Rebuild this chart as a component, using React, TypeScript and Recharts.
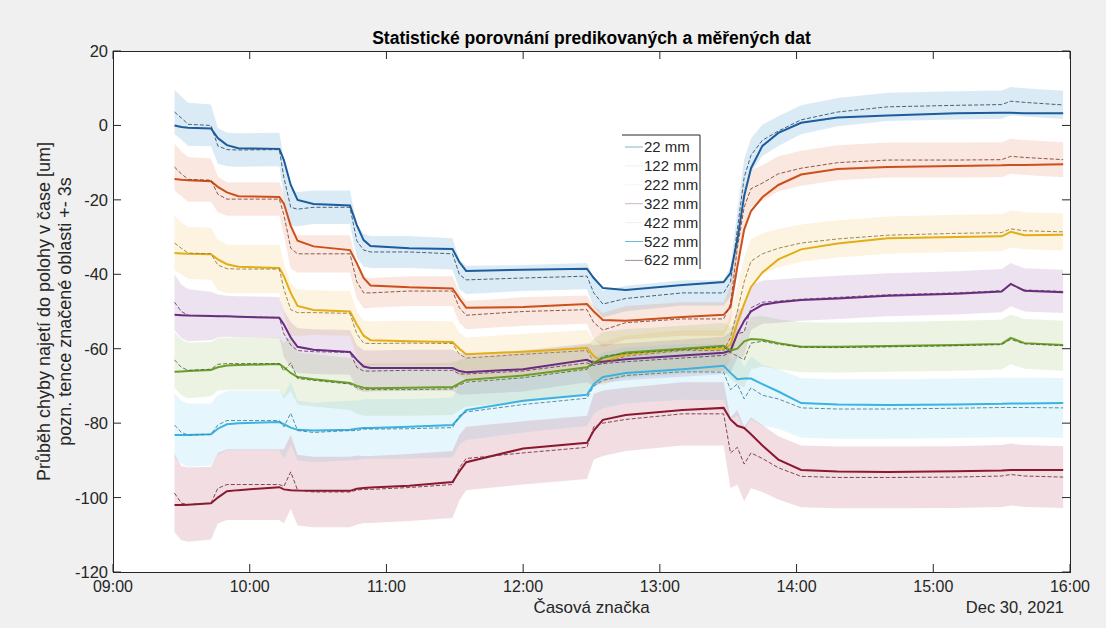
import React from 'react';
import { ComposedChart, Line, Area, XAxis, YAxis } from 'recharts';

// ---------- data ----------
const TIMES = ['09:27','09:30','09:33','09:43','09:46','09:50','09:55','10:13','10:15','10:18','10:21','10:28','10:44','10:47','10:50','10:53','11:10','11:29','11:32','11:35','12:00','12:28','12:31','12:35','12:45','13:10','13:28','13:31','13:34','13:37','13:40','13:45','13:52','14:02','14:18','14:40','15:10','15:30','15:34','15:40','15:57'];
const X_TICKS = ['09:00','10:00','11:00','12:00','13:00','14:00','15:00','16:00'];
const Y_TICKS = [20, 0, -20, -40, -60, -80, -100, -120];
const NAMES = ['22 mm','122 mm','222 mm','322 mm','422 mm','522 mm','622 mm'];

const M22 = [0,-0.4,-0.6,-0.8,-3.4,-5.3,-6.1,-6.3,-9.3,-16,-20,-21.1,-21.5,-26.8,-30.8,-32.4,-33,-33.2,-36.7,-39.1,-38.8,-38.5,-41,-43.7,-44.2,-42.9,-42.1,-39.7,-30.8,-19,-11.5,-5.5,-2,0.7,2.1,2.7,3.3,3.4,3.4,3.3,3.3];
const P22 = [3.6,2,0.3,0,-5.5,-6.5,-6.6,-6.5,-14,-22,-22.5,-22,-22,-31,-33.5,-34,-34,-34.5,-40,-41.5,-41,-40.5,-45,-48,-46.5,-45,-45,-42,-28,-14,-8,-4,-1.5,1.5,3.6,5,5.4,5.6,6.5,6.2,5.5];
const S22 = [6,5.8,5.8,5.6,4.8,4.5,4.5,4.5,5,5,4.6,4.5,4.5,4.6,4.4,4.3,4.3,4.2,4,3.8,3.5,3.5,3.8,3.6,3.4,3.4,3.4,4,5,5,4.5,4.2,4,3.9,3.8,3.8,3.8,3.8,3.8,3.8,3.8];

const M122 = [-14.4,-14.6,-14.7,-15,-16.5,-18,-19,-19.2,-21,-27,-31,-32.5,-33.5,-37,-41,-43,-43.5,-43.8,-46.5,-49,-48.8,-48,-50,-52.3,-52.5,-51.5,-50.9,-48.8,-38,-28,-23,-19.3,-16,-13.2,-11.7,-11.2,-10.9,-10.7,-10.6,-10.6,-10.4];
const P122 = [-11.2,-13,-14.5,-14.7,-18.5,-19.8,-19.8,-19.8,-24,-33,-34.5,-34.5,-34.5,-42,-45,-45,-44.5,-44.5,-49,-51,-50,-49.5,-53,-55,-53,-52,-52,-48,-33,-22,-17,-15.5,-13,-11.5,-10,-9.3,-9.3,-9.2,-8.3,-8.6,-9.2];
const S122 = [6.3,6,6,5.8,4.8,4.5,4.5,4.5,5.5,5.5,5,5,5,4.5,4.2,4,4,4,4,3.8,3.8,3.8,4.5,4.6,4.5,4.5,4.5,5,5.5,5.5,5,4.8,4.7,4.7,4.7,4.7,4.7,4.7,4.7,4.7,4.7];

const M222 = [-34.3,-34.4,-34.5,-34.6,-36,-37.3,-38,-38.3,-40.5,-45,-48.5,-49.6,-50,-53.5,-56.5,-57.7,-58,-58.2,-60,-61.5,-60.8,-59.8,-62,-63.5,-61.5,-60,-60,-59,-53,-48,-43.4,-39.5,-36,-33.3,-31.7,-30.3,-30,-29.8,-28.6,-29.5,-29.4];
const P222 = [-31.6,-33,-34.3,-34.5,-37.5,-38.5,-38.6,-38.6,-44,-49.5,-50.3,-50.3,-50.5,-56,-58.5,-58.6,-58.5,-58.6,-61.5,-62.5,-61.5,-60.5,-63.5,-64,-62,-60.5,-60.5,-57,-50,-42,-36.5,-34.5,-33,-31.6,-30.5,-29.5,-29,-28.8,-27.8,-28.3,-28.6];
const S222 = [7.3,7,7,7,6.8,6.5,6.5,6.5,7,7,6.2,6,6,6.2,6,6,6,6,5.8,5.5,5.5,5.5,5.8,5.8,5.5,5.5,5.5,6,6.5,6.5,6,5.5,5.2,5,5,5,5,5,5,5,5];

const M322 = [-50.9,-51,-51.1,-51.2,-51.3,-51.3,-51.4,-51.7,-53.5,-57,-59.5,-60.3,-60.9,-63,-64.8,-65.2,-65.2,-65.2,-66,-66.3,-65.5,-63,-63.8,-63.5,-62.8,-61.8,-61.1,-60.5,-56,-52.5,-50,-48.2,-47.5,-46.9,-46.5,-45.8,-45.2,-44.6,-42.6,-44.4,-44.8];
const P322 = [-47.5,-50,-51,-51.2,-51.2,-51.3,-51.4,-51.6,-56,-59,-60.5,-60.8,-61,-65,-66,-66,-65.8,-65.8,-66.8,-66.8,-66,-63.8,-64.5,-64,-63.5,-62.5,-61.8,-61,-56,-55.5,-49,-47.5,-47.2,-46.7,-46.2,-45.5,-45,-44.4,-42.8,-44.2,-44.6];
const S322 = [7.5,7.2,7,6.5,5.8,5.5,5.5,5.5,6.2,6.2,6,6,6,6,5.6,5.5,5.5,5.5,5.5,5.5,5.5,5.2,5.5,5.2,5,5,5,5.5,6.5,6.5,6,5.8,5.8,5.8,5.8,5.8,5.8,5.8,5.8,5.8,5.8];

const M422 = [-66.2,-66.1,-66,-65.7,-65,-64.5,-64.4,-64.1,-65,-66.5,-67.6,-68.2,-69.2,-70,-70.5,-70.6,-70.5,-70.3,-69.3,-68.4,-67.2,-65,-63.8,-62.5,-61,-60,-59.2,-60.5,-60,-58,-57.4,-57.6,-58.5,-59.5,-59.5,-59.3,-59,-58.7,-57.1,-58.5,-59];
const P422 = [-63,-65,-65.8,-65.5,-64.2,-64,-64,-64,-66,-63.8,-68,-68.5,-69.5,-70.5,-71,-71,-71,-70.8,-69.8,-69,-67.8,-65.5,-64,-62,-61.3,-60.3,-59.5,-61,-62,-63,-58.5,-58,-58.8,-59.6,-59.7,-59.5,-59.2,-58.9,-57.5,-58.7,-59.2];
const S422 = [7.5,7.5,7.5,7.3,7,7,7,7,7.5,7.5,7,7,7,7,7,7,7,7,6.8,6.5,6.5,6.5,6.5,6.5,6.5,6.5,6.5,7,7.5,7.5,7,6.8,6.7,6.7,6.7,6.7,6.7,6.7,6.7,6.7,6.7];

const M522 = [-83.2,-83.2,-83.2,-83,-81.5,-80.3,-80,-79.7,-80.3,-81.2,-81.8,-82,-81.8,-81.5,-81.3,-81.3,-81,-80.5,-78.5,-76.5,-74,-72.4,-69.5,-67.6,-66.5,-65.5,-64.6,-66.5,-68.2,-68,-68,-69.5,-71.5,-74.6,-75,-75.1,-75,-74.8,-74.7,-74.7,-74.6];
const P522 = [-80.5,-82.5,-83.2,-83,-80.5,-79.3,-79.3,-79.3,-81,-77.3,-82,-82.5,-82,-82,-81.6,-81.6,-81.5,-81.2,-78,-77,-75,-73.3,-70,-68.5,-67.2,-66.2,-66.3,-71,-69.5,-73.5,-70.5,-72.5,-73.5,-75.9,-76.2,-76.2,-76,-75.8,-75.8,-75.8,-75.9];
const S522 = [8.5,8.5,8.5,8.3,8,8,8,8,8.5,8.5,8,8,8,8,8,8,8,8,7.8,7.5,7.5,7.5,7.5,7.5,7.5,7.5,7.5,8,8.5,8.5,8.5,8.2,8,8,8,8,8,8,8,8,8];

const M622 = [-102,-102,-101.9,-101.5,-100,-98.3,-98,-97.2,-97.8,-98,-98.1,-98.2,-98.2,-97.6,-97.4,-97.3,-96.8,-95.8,-93,-90.5,-86.8,-85.3,-82,-79.1,-77.8,-76.5,-75.9,-79,-80.7,-81.3,-83,-86,-89.8,-92.6,-93,-93.1,-92.9,-92.7,-92.6,-92.6,-92.6];
const P622 = [-98.8,-101.5,-101.9,-101.5,-97.5,-96.5,-96.5,-96.5,-97,-93.1,-98,-98.5,-98.5,-98,-97.8,-97.8,-97.3,-96.5,-92,-89.5,-88,-86.5,-81,-80,-79,-77.5,-77.5,-88,-86.5,-91,-88,-89.5,-92,-94.3,-94.6,-94.6,-94.5,-94.2,-93.8,-94.2,-94.5];
const S622 = [10.5,10,10,9.8,9.5,9.5,9.5,9.5,10,10,9.5,9.5,9.5,9.3,9,9,9,9,8.8,8.5,8.5,8.5,8.8,8.8,8.5,8.5,8.5,9.5,10,10,9.5,9,8.5,8.3,8.3,8.3,8.3,8.3,8.3,8.3,8.3];

// ---------- styling ----------
const BAND_COLORS = ['#0072BD', '#D95319', '#EDB120', '#7E2F8E', '#77AC30', '#4DBEEE', '#A2142F'];
const LINE_COLORS = ['#1c5c9c', '#cc4f1c', '#e3ad16', '#6c2a80', '#6a9e28', '#3bb2e2', '#8c1830'];
const PRED_COLORS = ['#2c4866', '#7a3f2a', '#8f7636', '#5c3e66', '#4f6636', '#3d7e94', '#6a2a38'];
const LEGEND_SAMPLES = ['#7fb6cc', '#f4ece8', '#f8f4ea', '#c9b4c8', '#eef2e8', '#62bfd6', '#a48c94'];

const MAIN = [M22, M122, M222, M322, M422, M522, M622];
const PRED = [P22, P122, P222, P322, P422, P522, P622];
const SPREAD = [S22, S122, S222, S322, S422, S522, S622];

const toMin = (s: string) => {
  const [h, m] = s.split(':').map(Number);
  return h * 60 + m - 540;
};
const fmt = (v: number) => {
  const tot = v + 540;
  const h = Math.floor(tot / 60);
  const m = tot % 60;
  return `${String(h).padStart(2, '0')}:${String(m).padStart(2, '0')}`;
};

const data = TIMES.map((lab, i) => {
  const row: any = { t: toMin(lab) };
  for (let k = 0; k < NAMES.length; k++) {
    row['m' + k] = MAIN[k][i];
    row['p' + k] = PRED[k][i];
    row['b' + k] = [PRED[k][i] - SPREAD[k][i], PRED[k][i] + SPREAD[k][i]];
  }
  return row;
});

const W = 1106;
const H = 628;
const PLOT = { left: 113, top: 51, right: 1070, bottom: 572 };
const FONT = '"Liberation Sans", Arial, Helvetica, sans-serif';
const AX = '#262626';

const XTick = (props: any) => {
  const { x, payload } = props;
  return (
    <g>
      <line x1={x} x2={x} y1={PLOT.bottom} y2={PLOT.bottom - 8} stroke={AX} strokeWidth={1} />
      <line x1={x} x2={x} y1={PLOT.top} y2={PLOT.top + 8} stroke={AX} strokeWidth={1} />
      <text x={x} y={PLOT.bottom + 20} textAnchor="middle" fontSize={16} fill={AX} fontFamily={FONT}>
        {fmt(payload.value)}
      </text>
    </g>
  );
};

const YTick = (props: any) => {
  const { y, payload } = props;
  return (
    <g>
      <line x1={PLOT.left} x2={PLOT.left + 8} y1={y} y2={y} stroke={AX} strokeWidth={1} />
      <line x1={PLOT.right} x2={PLOT.right - 8} y1={y} y2={y} stroke={AX} strokeWidth={1} />
      <text x={PLOT.left - 5} y={y + 6} textAnchor="end" fontSize={16.5} fill={AX} fontFamily={FONT}>
        {payload.value}
      </text>
    </g>
  );
};

export default function App() {
  const plotW = PLOT.right - PLOT.left;
  const plotH = PLOT.bottom - PLOT.top;
  return (
    <div style={{ position: 'absolute', left: 0, top: 0, width: W, height: H, background: '#f0f0f0', overflow: 'hidden' }}>
      <div style={{ position: 'absolute', left: PLOT.left, top: PLOT.top, width: plotW, height: plotH, background: '#ffffff' }} />
      <div style={{ position: 'absolute', left: 0, top: 0 }}>
        <ComposedChart
          width={W}
          height={H}
          data={data}
          margin={{ top: PLOT.top, right: W - PLOT.right, bottom: H - PLOT.bottom - 30, left: PLOT.left - 40 }}
        >
          <XAxis
            dataKey="t"
            type="number"
            domain={[0, 420]}
            ticks={X_TICKS.map(toMin)}
            tick={<XTick />}
            tickLine={false}
            axisLine={false}
            interval={0}
            height={30}
            allowDataOverflow
          />
          <YAxis
            type="number"
            domain={[-120, 20]}
            ticks={Y_TICKS}
            tick={<YTick />}
            tickLine={false}
            axisLine={false}
            interval={0}
            width={40}
            allowDataOverflow
          />
          {NAMES.map((n, k) => (
            <Area
              key={'b' + k}
              dataKey={'b' + k}
              type="linear"
              stroke="none"
              fill={BAND_COLORS[k]}
              fillOpacity={0.14}
              isAnimationActive={false}
              dot={false}
              activeDot={false}
              legendType="none"
            />
          ))}
          {NAMES.map((n, k) => (
            <Line
              key={'m' + k}
              dataKey={'m' + k}
              type="linear"
              stroke={LINE_COLORS[k]}
              strokeWidth={2}
              dot={false}
              activeDot={false}
              isAnimationActive={false}
            />
          ))}
          {NAMES.map((n, k) => (
            <Line
              key={'p' + k}
              dataKey={'p' + k}
              type="linear"
              stroke={PRED_COLORS[k]}
              strokeWidth={1}
              strokeDasharray="4 2"
              strokeOpacity={0.85}
              dot={false}
              activeDot={false}
              isAnimationActive={false}
            />
          ))}
        </ComposedChart>
      </div>
      <div
        style={{
          position: 'absolute',
          left: PLOT.left,
          top: PLOT.top,
          width: plotW + 1,
          height: plotH + 1,
          boxSizing: 'border-box',
          border: `1px solid ${AX}`,
          pointerEvents: 'none',
        }}
      />
      <svg width={W} height={H} style={{ position: 'absolute', left: 0, top: 0, pointerEvents: 'none' }}>
        <text x={(PLOT.left + PLOT.right) / 2} y={44} textAnchor="middle" fontSize={17.5} fontWeight="bold" fill="#000" fontFamily={FONT}>
          Statistické porovnání predikovaných a měřených dat
        </text>
        <text x={(PLOT.left + PLOT.right) / 2} y={613} textAnchor="middle" fontSize={17} fill={AX} fontFamily={FONT}>
          Časová značka
        </text>
        <text x={1064} y={613} textAnchor="end" fontSize={16.5} fill={AX} fontFamily={FONT}>
          Dec 30, 2021
        </text>
        <text transform={`translate(50, ${(PLOT.top + PLOT.bottom) / 2}) rotate(-90)`} textAnchor="middle" fontSize={18} fill={AX} fontFamily={FONT}>
          Průběh chyby najetí do polohy v čase [um]
        </text>
        <text transform={`translate(71, ${(PLOT.top + PLOT.bottom) / 2}) rotate(-90)`} textAnchor="middle" fontSize={18} fill={AX} fontFamily={FONT}>
          pozn. tence značené oblasti +- 3s
        </text>
        {/* legend */}
        <rect x={622} y={135} width={78} height={134} fill="#ffffff" />
        <line x1={622} x2={700} y1={135} y2={135} stroke={AX} strokeWidth={1} />
        <line x1={700} x2={700} y1={135} y2={269} stroke={AX} strokeWidth={1} />
        {NAMES.map((n, k) => (
          <g key={'lg' + k}>
            <line x1={625} x2={643} y1={147 + k * 18.9} y2={147 + k * 18.9} stroke={LEGEND_SAMPLES[k]} strokeWidth={1} />
            <text x={644} y={152 + k * 18.9} fontSize={15} fill={AX} fontFamily={FONT}>
              {n}
            </text>
          </g>
        ))}
      </svg>
    </div>
  );
}
